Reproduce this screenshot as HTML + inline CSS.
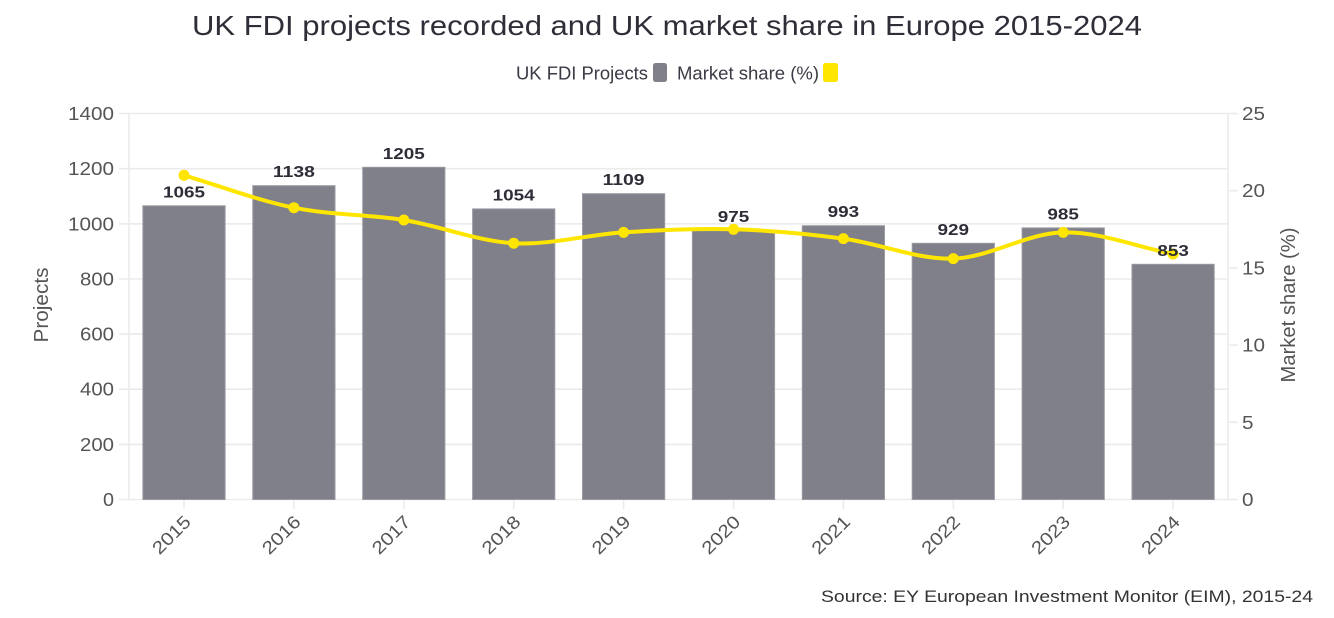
<!DOCTYPE html>
<html><head><meta charset="utf-8"><style>
html,body{margin:0;padding:0;background:#fff;}
svg{display:block;font-family:"Liberation Sans",sans-serif;}
</style></head><body>
<svg width="1334" height="618" viewBox="0 0 1334 618" xmlns="http://www.w3.org/2000/svg">
<text x="667" y="35" text-anchor="middle" font-size="28" fill="#2e2e38" textLength="950" lengthAdjust="spacingAndGlyphs">UK FDI projects recorded and UK market share in Europe 2015-2024</text>
<text x="516" y="79.5" font-size="18" fill="#3a3a44" textLength="132" lengthAdjust="spacingAndGlyphs">UK FDI Projects</text>
<rect x="653" y="63" width="14" height="19" rx="2.5" fill="#80808a"/>
<text x="677" y="79.5" font-size="18" fill="#3a3a44" textLength="142" lengthAdjust="spacingAndGlyphs">Market share (%)</text>
<rect x="823" y="63" width="15" height="19" rx="2.5" fill="#ffe600"/>
<g stroke="#ebebeb" stroke-width="1.6">
<line x1="119" y1="113.5" x2="1228" y2="113.5"/>
<line x1="119" y1="168.7" x2="1228" y2="168.7"/>
<line x1="119" y1="223.8" x2="1228" y2="223.8"/>
<line x1="119" y1="279" x2="1228" y2="279"/>
<line x1="119" y1="334.1" x2="1228" y2="334.1"/>
<line x1="119" y1="389.2" x2="1228" y2="389.2"/>
<line x1="119" y1="444.4" x2="1228" y2="444.4"/>
<line x1="119" y1="499.5" x2="1228" y2="499.5"/>
<line x1="129" y1="113" x2="129" y2="500"/>
<line x1="1228" y1="113" x2="1228" y2="500"/>
<line x1="1228" y1="113.5" x2="1238" y2="113.5"/>
<line x1="1228" y1="190.7" x2="1238" y2="190.7"/>
<line x1="1228" y1="267.9" x2="1238" y2="267.9"/>
<line x1="1228" y1="345.1" x2="1238" y2="345.1"/>
<line x1="1228" y1="422.3" x2="1238" y2="422.3"/>
<line x1="1228" y1="499.5" x2="1238" y2="499.5"/>
<line x1="184" y1="500" x2="184" y2="509"/>
<line x1="293.9" y1="500" x2="293.9" y2="509"/>
<line x1="403.8" y1="500" x2="403.8" y2="509"/>
<line x1="513.7" y1="500" x2="513.7" y2="509"/>
<line x1="623.6" y1="500" x2="623.6" y2="509"/>
<line x1="733.5" y1="500" x2="733.5" y2="509"/>
<line x1="843.4" y1="500" x2="843.4" y2="509"/>
<line x1="953.3" y1="500" x2="953.3" y2="509"/>
<line x1="1063.2" y1="500" x2="1063.2" y2="509"/>
<line x1="1173.1" y1="500" x2="1173.1" y2="509"/>
</g>
<g font-size="18" fill="#555" text-anchor="end">
<text x="114" y="120" textLength="46" lengthAdjust="spacingAndGlyphs">1400</text>
<text x="114" y="175.2" textLength="46" lengthAdjust="spacingAndGlyphs">1200</text>
<text x="114" y="230.3" textLength="46" lengthAdjust="spacingAndGlyphs">1000</text>
<text x="114" y="285.5" textLength="34" lengthAdjust="spacingAndGlyphs">800</text>
<text x="114" y="340.6" textLength="34" lengthAdjust="spacingAndGlyphs">600</text>
<text x="114" y="395.7" textLength="34" lengthAdjust="spacingAndGlyphs">400</text>
<text x="114" y="450.9" textLength="34" lengthAdjust="spacingAndGlyphs">200</text>
<text x="114" y="506" textLength="11" lengthAdjust="spacingAndGlyphs">0</text>
</g>
<g font-size="18" fill="#555" text-anchor="start">
<text x="1242" y="120" textLength="23" lengthAdjust="spacingAndGlyphs">25</text>
<text x="1242" y="197.2" textLength="23" lengthAdjust="spacingAndGlyphs">20</text>
<text x="1242" y="274.4" textLength="23" lengthAdjust="spacingAndGlyphs">15</text>
<text x="1242" y="351.6" textLength="23" lengthAdjust="spacingAndGlyphs">10</text>
<text x="1242" y="428.8" textLength="11.5" lengthAdjust="spacingAndGlyphs">5</text>
<text x="1242" y="506" textLength="11.5" lengthAdjust="spacingAndGlyphs">0</text>
</g>
<text transform="translate(48,305) rotate(-90)" text-anchor="middle" font-size="20" fill="#555" textLength="75" lengthAdjust="spacingAndGlyphs">Projects</text>
<text transform="translate(1295,305) rotate(-90)" text-anchor="middle" font-size="20" fill="#555" textLength="155" lengthAdjust="spacingAndGlyphs">Market share (%)</text>
<g font-size="18" fill="#555" text-anchor="end">
<text transform="translate(192,523) rotate(-45)" textLength="46" lengthAdjust="spacingAndGlyphs">2015</text>
<text transform="translate(301.9,523) rotate(-45)" textLength="46" lengthAdjust="spacingAndGlyphs">2016</text>
<text transform="translate(411.8,523) rotate(-45)" textLength="46" lengthAdjust="spacingAndGlyphs">2017</text>
<text transform="translate(521.7,523) rotate(-45)" textLength="46" lengthAdjust="spacingAndGlyphs">2018</text>
<text transform="translate(631.6,523) rotate(-45)" textLength="46" lengthAdjust="spacingAndGlyphs">2019</text>
<text transform="translate(741.5,523) rotate(-45)" textLength="46" lengthAdjust="spacingAndGlyphs">2020</text>
<text transform="translate(851.4,523) rotate(-45)" textLength="46" lengthAdjust="spacingAndGlyphs">2021</text>
<text transform="translate(961.3,523) rotate(-45)" textLength="46" lengthAdjust="spacingAndGlyphs">2022</text>
<text transform="translate(1071.2,523) rotate(-45)" textLength="46" lengthAdjust="spacingAndGlyphs">2023</text>
<text transform="translate(1181.1,523) rotate(-45)" textLength="46" lengthAdjust="spacingAndGlyphs">2024</text>
</g>
<g fill="#80808a" stroke="#9a9aa2" stroke-width="1">
<rect x="142.9" y="205.8" width="82.2" height="293.7"/>
<rect x="252.8" y="185.7" width="82.2" height="313.8"/>
<rect x="362.7" y="167.3" width="82.2" height="332.2"/>
<rect x="472.6" y="208.9" width="82.2" height="290.6"/>
<rect x="582.5" y="193.7" width="82.2" height="305.8"/>
<rect x="692.4" y="230.7" width="82.2" height="268.8"/>
<rect x="802.3" y="225.7" width="82.2" height="273.8"/>
<rect x="912.2" y="243.3" width="82.2" height="256.2"/>
<rect x="1022.1" y="227.9" width="82.2" height="271.6"/>
<rect x="1132" y="264.3" width="82.2" height="235.2"/>
</g>
<path d="M184,175.3 C220.6,186.1 257.3,200.25 293.9,207.7 C330.5,215.15 367.2,214.08 403.8,220.0 C440.4,225.92 477.1,241.13 513.7,243.2 C550.3,245.27 587.0,234.72 623.6,232.4 C660.2,230.08 696.9,228.27 733.5,229.3 C770.1,230.33 806.8,233.72 843.4,238.6 C880.0,243.48 916.7,259.63 953.3,258.6 C989.9,257.57 1026.6,233.17 1063.2,232.4 C1099.8,231.63 1136.5,246.8 1173.1,254.0" fill="none" stroke="#ffe600" stroke-width="4" stroke-linecap="round"/>
<g fill="#ffe600">
<circle cx="184" cy="175.3" r="5.5"/>
<circle cx="293.9" cy="207.7" r="5.5"/>
<circle cx="403.8" cy="220" r="5.5"/>
<circle cx="513.7" cy="243.2" r="5.5"/>
<circle cx="623.6" cy="232.4" r="5.5"/>
<circle cx="733.5" cy="229.3" r="5.5"/>
<circle cx="843.4" cy="238.6" r="5.5"/>
<circle cx="953.3" cy="258.6" r="5.5"/>
<circle cx="1063.2" cy="232.4" r="5.5"/>
<circle cx="1173.1" cy="254" r="5.5"/>
</g>
<g font-size="15.5" font-weight="bold" fill="#2e2e38" text-anchor="middle">
<text x="184" y="197.3" textLength="42" lengthAdjust="spacingAndGlyphs">1065</text>
<text x="293.9" y="177.2" textLength="42" lengthAdjust="spacingAndGlyphs">1138</text>
<text x="403.8" y="158.8" textLength="42" lengthAdjust="spacingAndGlyphs">1205</text>
<text x="513.7" y="200.4" textLength="42" lengthAdjust="spacingAndGlyphs">1054</text>
<text x="623.6" y="185.2" textLength="42" lengthAdjust="spacingAndGlyphs">1109</text>
<text x="733.5" y="222.2" textLength="31.5" lengthAdjust="spacingAndGlyphs">975</text>
<text x="843.4" y="217.2" textLength="31.5" lengthAdjust="spacingAndGlyphs">993</text>
<text x="953.3" y="234.8" textLength="31.5" lengthAdjust="spacingAndGlyphs">929</text>
<text x="1063.2" y="219.4" textLength="31.5" lengthAdjust="spacingAndGlyphs">985</text>
<text x="1173.1" y="255.8" textLength="31.5" lengthAdjust="spacingAndGlyphs">853</text>
</g>
<text x="1313" y="602" text-anchor="end" font-size="17" fill="#333" textLength="492" lengthAdjust="spacingAndGlyphs">Source: EY European Investment Monitor (EIM), 2015-24</text>
</svg>
</body></html>
